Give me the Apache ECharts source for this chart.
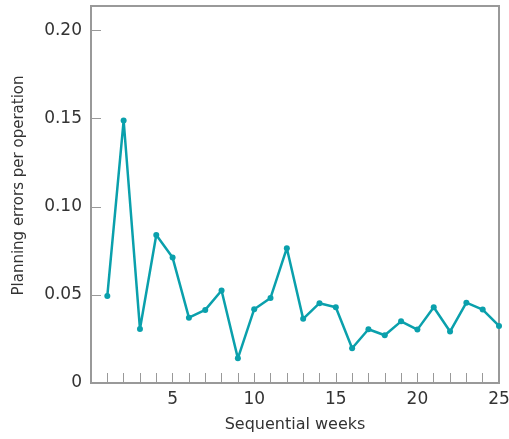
<!DOCTYPE html>
<html><head><meta charset="utf-8">
<script src="https://cdn.jsdelivr.net/npm/echarts@6/dist/echarts.min.js"></script>
<style>html,body{margin:0;padding:0;background:#fff}#c{width:509px;height:439px}</style>
</head><body><div id="c"></div>
<script>
const weeks = [1,2,3,4,5,6,7,8,9,10,11,12,13,14,15,16,17,18,19,20,21,22,23,24,25];
const errors = [0.0494,0.149,0.0307,0.084,0.0712,0.0371,0.0415,0.0525,0.014,0.0419,0.0483,0.0765,0.0364,0.0453,0.043,0.0197,0.0305,0.0271,0.035,0.0303,0.043,0.0292,0.0456,0.0417,0.0324];
const yTickLabels = {0:'0',0.05:'0.05',0.1:'0.10',0.15:'0.15',0.2:'0.20'};
const xTickLabels = [5,10,15,20,25];
const font = '"DejaVu Sans", sans-serif';
const chart = echarts.init(document.getElementById('c'));
chart.setOption({
  animation:false,
  grid:{left:91,right:10,top:6,bottom:56,outerBoundsMode:'none',containLabel:false,show:true,borderColor:'#999',borderWidth:2,backgroundColor:'transparent'},
  xAxis:{type:'value',min:0,max:25,interval:1,
    name:'Sequential weeks',nameLocation:'middle',nameGap:34,
    nameTextStyle:{fontFamily:font,fontSize:16,color:'#333'},
    axisLine:{lineStyle:{color:'#999',width:2}},
    axisTick:{inside:true,length:10,lineStyle:{color:'#999',width:1}},
    splitLine:{show:false},
    axisLabel:{fontFamily:font,fontSize:17,color:'#333',margin:8,hideOverlap:false,
      formatter:v=>xTickLabels.includes(v)?String(v):''}},
  yAxis:{type:'value',min:0,max:0.214,interval:0.05,
    name:'Planning errors per operation',nameLocation:'middle',nameGap:64,
    nameTextStyle:{fontFamily:font,fontSize:15,color:'#333',padding:[0,0,0,18]},
    axisLine:{show:true,lineStyle:{color:'#999',width:2}},
    axisTick:{show:true,inside:true,length:10,lineStyle:{color:'#999',width:1}},
    splitLine:{show:false},
    axisLabel:{fontFamily:font,fontSize:17,color:'#333',margin:9,showMaxLabel:false,
      formatter:v=>{const k=Math.round(v*100)/100;return yTickLabels[k]!==undefined?yTickLabels[k]:'';}}},
  series:[{type:'line',data:weeks.map((w,i)=>[w,errors[i]]),
    symbol:'circle',symbolSize:6,
    lineStyle:{color:'#0aa0ac',width:2.5},
    itemStyle:{color:'#0aa0ac'}}]
});
</script></body></html>
